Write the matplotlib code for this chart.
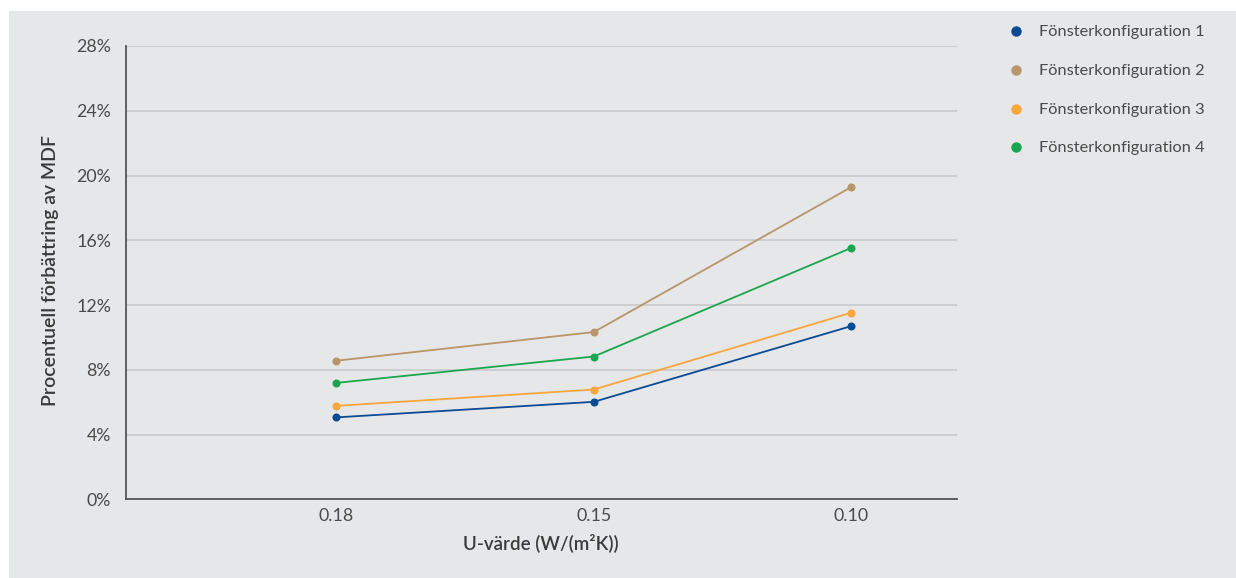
import matplotlib
matplotlib.use("Agg")
import matplotlib.pyplot as plt
from matplotlib.patches import Rectangle
from matplotlib.lines import Line2D

plt.rcParams['font.family'] = ['Lato', 'DejaVu Sans']

categories = ["0.18", "0.15", "0.10"]
series_names = ["Fönsterkonfiguration 1", "Fönsterkonfiguration 2",
                "Fönsterkonfiguration 3", "Fönsterkonfiguration 4"]
config1 = [5.06, 6.02, 10.70]
config2 = [8.56, 10.33, 19.29]
config3 = [5.77, 6.78, 11.53]
config4 = [7.19, 8.82, 15.53]
yticks = [0, 4, 8, 12, 16, 20, 24, 28]

colors = ["#0b4a94", "#b8956a", "#f9a63d", "#1aa64f"]
series = [config1, config2, config3, config4]

W, H = 1236, 578
fig = plt.figure(figsize=(W / 100, H / 100), dpi=100)
fig.patch.set_facecolor("white")
bg = "#e6e7e8"
fig.patches.append(Rectangle((9 / W, 0), 1 - 9 / W, 1 - 11 / H,
                             transform=fig.transFigure, facecolor=bg,
                             edgecolor="none", zorder=-10))

ax = fig.add_axes([126 / W, 1 - 499.3 / H, (956.5 - 126) / W, (499.3 - 46) / H])
ax.set_facecolor(bg)
ax.patch.set_alpha(0)

x = list(range(len(categories)))
for vals, c in zip(series, colors):
    ax.plot(x, vals, color=c, lw=1.3, marker="o", markersize=5.8,
            markeredgewidth=0, zorder=3)

ax.set_xlim(-0.816, 2.408)
ax.set_ylim(0, 28)
ax.set_yticks(yticks)
ax.set_yticklabels([f"{v}%" for v in yticks])
ax.set_xticks(x)
ax.set_xticklabels(categories)
ax.tick_params(length=0, labelsize=12.8, colors="#4a4a4a", pad=6.5)
ax.tick_params(axis="y", pad=10.8)
ax.grid(axis="y", color="#c9cacb", lw=1.2)
ax.set_axisbelow(True)
for s in ["top", "right"]:
    ax.spines[s].set_visible(False)
for s in ["left", "bottom"]:
    ax.spines[s].set_color("#555555")
    ax.spines[s].set_linewidth(1.3)

ax.set_xlabel("U-värde (W/(m²K))", fontsize=13.5, color="#3a3a3a",
              fontweight="semibold", labelpad=6)
fig.text(51 / W, 1 - 271 / H, "Procentuell förbättring av MDF", rotation=90,
         ha="center", va="center", fontsize=14, color="#3a3a3a",
         fontweight="semibold")

leg_y = [31, 70, 109, 147]
for name, c, yy in zip(series_names, colors, leg_y):
    fig.add_artist(Line2D([1016 / W], [1 - yy / H], marker="o", markersize=7.5,
                          color=c, markeredgewidth=0, linestyle="none",
                          transform=fig.transFigure))
    fig.text(1039 / W, 1 - (yy + 1) / H, name, ha="left", va="center",
             fontsize=11.8, color="#4a4a4a")

fig.savefig("out.png", dpi=100)
